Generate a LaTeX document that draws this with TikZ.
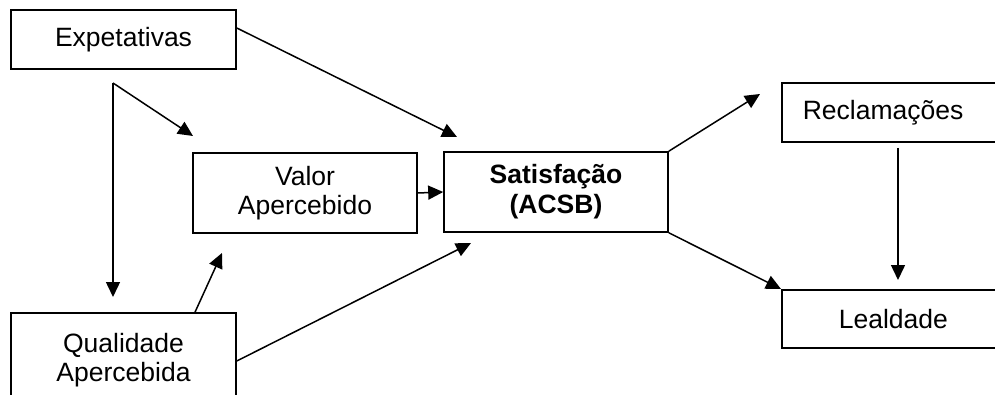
\documentclass[tikz,border=0pt]{standalone}
\usepackage{fontspec}
\setmainfont{Liberation Sans}
\usetikzlibrary{arrows.meta}
\tikzset{
  box/.style={draw=black, line width=1.6pt, rectangle, inner sep=0pt, align=center,
    font=\fontsize{26.5}{29}\selectfont},
  conn/.style={line width=1.5pt, -{Triangle[length=15pt,width=14pt]}},
  plain/.style={line width=1.5pt}
}
\begin{document}
\begin{tikzpicture}[x=1pt,y=-1pt]
\clip (0,0) rectangle (995,395);
\fill[white] (0,0) rectangle (995,395);
% boxes
\node[box, minimum width=225pt, minimum height=59pt] (exp) at (123.5,39.5) {Expetativas};
\node[box, minimum width=224pt, minimum height=80pt] (val) at (305,193) {Valor\\Apercebido};
\node[box, minimum width=224pt, minimum height=80pt, font=\fontsize{26.5}{30}\selectfont\bfseries] (sat) at (556,192) {Satisfação\\(ACSB)};
\node[box, minimum width=225pt, minimum height=95pt] (qual) at (123.5,360.5) {Qualidade\\Apercebida};
\node[box, anchor=north west, minimum height=59pt, text width=209pt, inner xsep=21pt, align=left] (rec) at (781,82) {Reclamações};
\node[box, anchor=north west, minimum height=58pt, text width=173pt, inner xsep=57pt, align=left] (lea) at (781,289) {Lealdade};
% free ends
\coordinate (c0) at (113,83);
\coordinate (t1) at (457,137);
\coordinate (t2) at (193,136);
\coordinate (t3) at (113,297);
\coordinate (t4) at (222,253);
\coordinate (t5) at (471,243);
\coordinate (t6) at (760,94);
\coordinate (r0) at (898,148);
\coordinate (t7) at (898,280);
% connectors
\draw[conn] ([yshift=11.5pt]exp.east) -- (t1);
\draw[conn] (c0) -- (t2);
\draw[conn] (c0) -- (t3);
\draw[conn] (val.east) -- (sat.west);
\draw[conn] ([xshift=71.5pt]qual.north) -- (t4);
\draw[conn] ([yshift=-0.5pt]qual.east) -- (t5);
\draw[conn] (sat.north east) -- (t6);
\draw[conn] (sat.south east) -- (lea.north west);
\draw[conn] (r0) -- (t7);
\end{tikzpicture}
\end{document}
